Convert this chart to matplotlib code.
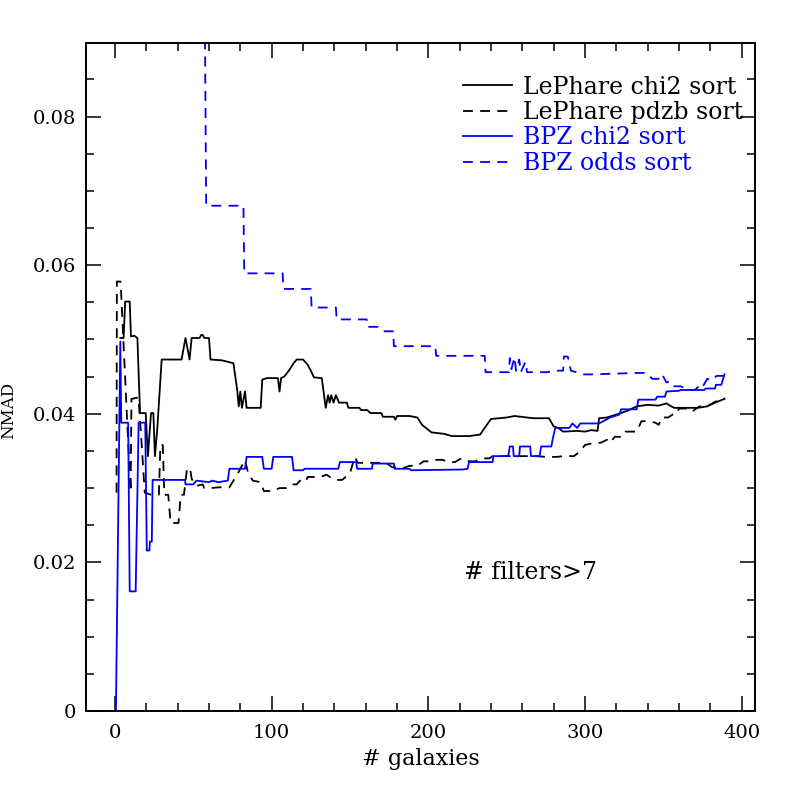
import matplotlib
matplotlib.use("Agg")
import matplotlib.pyplot as plt
from matplotlib.ticker import MultipleLocator

# ---------------- data ----------------
lp_chi2_x = [3.4, 5.5, 6.5, 9.4, 10.2, 12.3, 14.3, 16, 19.6, 21, 23, 24.5, 25.5, 27, 29.8,
             42.5, 45, 47.6, 48.9, 54, 55, 56, 57, 60, 61, 68, 72, 75.6, 78, 79, 80, 81,
             83, 84, 93, 94, 97, 104, 105, 106, 108, 111, 114, 116, 120, 123, 125, 127,
             132, 134.5, 136, 137, 138, 139.5, 141, 143, 148, 149, 156, 157, 161, 163,
             170, 171, 178, 179, 180, 188, 193, 196, 202, 210, 215, 226, 233, 236, 240,
             250, 255, 259, 267, 277, 280, 283, 286, 295, 300, 304, 308, 309, 314, 320,
             327, 333, 340, 347, 352, 355, 357, 368, 372, 378, 383, 389]
lp_chi2_y = [0.0502, 0.0502, 0.0551, 0.0551, 0.0504, 0.0505, 0.0502, 0.0401, 0.0401, 0.0343,
             0.0401, 0.0401, 0.0343, 0.0380, 0.0473, 0.0473, 0.0502, 0.0473, 0.0502, 0.0502,
             0.0506, 0.0506, 0.0502, 0.0502, 0.0473, 0.0472, 0.0470, 0.0468, 0.0432, 0.0410,
             0.0430, 0.0408, 0.0430, 0.0408, 0.0408, 0.0446, 0.0448, 0.0448, 0.0430, 0.0448,
             0.0450, 0.0458, 0.0468, 0.0473, 0.0473, 0.0466, 0.0458, 0.0449, 0.0448, 0.0408,
             0.0425, 0.0415, 0.0425, 0.0415, 0.0425, 0.0415, 0.0415, 0.0408, 0.0408, 0.0405,
             0.0405, 0.0401, 0.0401, 0.0396, 0.0396, 0.0392, 0.0397, 0.0397, 0.0395, 0.0385,
             0.0375, 0.0373, 0.0370, 0.0370, 0.0372, 0.0381, 0.0393, 0.0395, 0.0397, 0.0396,
             0.0394, 0.0394, 0.0383, 0.0381, 0.0376, 0.0377, 0.0376, 0.0378, 0.0377, 0.0394,
             0.0395, 0.0399, 0.0404, 0.0410, 0.0412, 0.0411, 0.0414, 0.0410, 0.0408, 0.0408,
             0.0408, 0.0410, 0.0415, 0.0420]

lp_pdzb_x = [1, 1.2, 3.5, 4, 6, 8, 10, 10.5, 15, 17, 19, 23, 28, 29, 30.5, 31.5, 34, 35.5,
             40.5, 42, 44, 46, 48, 49, 52, 56, 57, 61, 66, 73, 78, 83, 85, 88, 93, 95, 101,
             105, 110, 113, 116, 119, 122, 123, 131, 135, 140, 145, 150, 153, 155, 173, 177,
             184, 188, 193, 197, 201, 205, 209, 213, 217, 221, 226, 230, 234, 239, 241, 269,
             275, 282, 286, 293, 297, 300, 306, 310, 314, 316, 319, 324, 326, 333, 336, 340,
             345, 347, 349, 353, 356, 358, 360, 365, 366, 369, 373, 378, 382, 386, 389]
lp_pdzb_y = [0.0294, 0.0578, 0.0578, 0.0560, 0.0470, 0.0380, 0.0295, 0.0420, 0.0422, 0.0360,
             0.0294, 0.0291, 0.0291, 0.0358, 0.0358, 0.0291, 0.0291, 0.0253, 0.0253, 0.0291,
             0.0291, 0.0327, 0.0325, 0.0312, 0.0303, 0.0305, 0.0300, 0.0300, 0.0301, 0.0301,
             0.0318, 0.0338, 0.0320, 0.0310, 0.0308, 0.0296, 0.0296, 0.0300, 0.0300, 0.0305,
             0.0305, 0.0312, 0.0310, 0.0315, 0.0315, 0.0318, 0.0311, 0.0311, 0.0320, 0.0342,
             0.0334, 0.0334, 0.0328, 0.0327, 0.0330, 0.0330, 0.0336, 0.0336, 0.0338, 0.0338,
             0.0335, 0.0335, 0.0340, 0.0336, 0.0336, 0.0340, 0.0340, 0.0343, 0.0343, 0.0342,
             0.0342, 0.0343, 0.0343, 0.0350, 0.0358, 0.0361, 0.0361, 0.0365, 0.0361, 0.0369,
             0.0369, 0.0376, 0.0376, 0.0390, 0.0390, 0.0388, 0.0385, 0.0395, 0.0395, 0.0399,
             0.0399, 0.0407, 0.0407, 0.0404, 0.0404, 0.0410, 0.0410, 0.0415, 0.0419, 0.0421]

bpz_chi2_x = [0.6, 3.4, 4.0, 8.4, 9.4, 13.2, 15.1, 19.3, 20.3, 22.0, 22.3, 23.5, 24.0, 44.7,
              45, 50, 52, 60, 62, 66, 72, 73, 83, 84, 94, 95, 100, 101, 113, 114, 120, 121,
              142.5, 143.6, 154, 154.5, 164, 164.5, 178, 178.5, 188, 189, 222, 225, 226, 241,
              241.5, 251, 252, 254, 254.5, 258, 258.5, 265, 265.5, 271, 272, 278.5, 279.5,
              281, 290, 292, 295, 297, 309, 316, 322, 323, 333, 334, 345, 346, 351, 352, 360,
              361, 376, 377, 383, 383.5, 387, 389]
bpz_chi2_y = [0.0, 0.0497, 0.0388, 0.0388, 0.0161, 0.0161, 0.0388, 0.0388, 0.0216, 0.0216,
              0.0228, 0.0228, 0.0311, 0.0311, 0.0305, 0.0305, 0.0310, 0.0308, 0.0310, 0.0308,
              0.0310, 0.0326, 0.0326, 0.0342, 0.0342, 0.0326, 0.0326, 0.0342, 0.0342, 0.0324,
              0.0324, 0.0326, 0.0326, 0.0335, 0.0335, 0.0326, 0.0326, 0.0333, 0.0333, 0.0326,
              0.0326, 0.0324, 0.0325, 0.0326, 0.0335, 0.0335, 0.0343, 0.0343, 0.0356, 0.0356,
              0.0343, 0.0343, 0.0356, 0.0356, 0.0343, 0.0343, 0.0356, 0.0356, 0.0367, 0.0381,
              0.0381, 0.0387, 0.0381, 0.0387, 0.0387, 0.0395, 0.0399, 0.0406, 0.0406, 0.0419,
              0.0419, 0.0423, 0.0423, 0.0430, 0.0431, 0.0432, 0.0432, 0.0434, 0.0434, 0.0439,
              0.0439, 0.0453]

bpz_odds_x = [57.3, 58.2, 82, 82.5, 107, 107.5, 125, 125.5, 141, 141.5, 160.6, 161, 168, 171,
              177.6, 178, 204.5, 205, 236, 236.5, 251.5, 252, 253, 255, 256, 258, 259, 262,
              263, 276, 280, 284, 286, 286.5, 289, 291, 296, 298, 304, 333, 339, 343, 347,
              349, 350, 352, 354, 357, 361, 366, 370, 372, 373, 375, 378, 381, 384, 389]
bpz_odds_y = [0.0950, 0.0680, 0.0680, 0.0589, 0.0589, 0.0568, 0.0568, 0.0543, 0.0543, 0.0527,
              0.0527, 0.0517, 0.0517, 0.0511, 0.0511, 0.0491, 0.0491, 0.0478, 0.0478, 0.0456,
              0.0456, 0.0475, 0.0460, 0.0476, 0.0458, 0.0473, 0.0456, 0.0470, 0.0456, 0.0456,
              0.0458, 0.0458, 0.0458, 0.0477, 0.0477, 0.0458, 0.0455, 0.0453, 0.0453, 0.0455,
              0.0455, 0.0447, 0.0447, 0.0444, 0.0450, 0.0442, 0.0444, 0.0437, 0.0437, 0.0432,
              0.0432, 0.0436, 0.0433, 0.0436, 0.0447, 0.0445, 0.0451, 0.0451]

labels = ["LePhare chi2 sort", "LePhare pdzb sort", "BPZ chi2 sort", "BPZ odds sort"]
colors = ["black", "black", "blue", "blue"]
x_ticks = [0, 100, 200, 300, 400]
y_ticks = [0, 0.02, 0.04, 0.06, 0.08]
y_tick_labels = ["0", "0.02", "0.04", "0.06", "0.08"]
annotation = "# filters>7"

# ---------------- plot ----------------
plt.rcParams['font.family'] = ['DejaVu Serif']
fig = plt.figure(figsize=(7.97, 7.97), dpi=100)
ax = fig.add_axes([86/797, 1-711/797, (755-86)/797, (711-43)/797])

lw = 1.3
dash = (0, (5.5, 4))
ax.plot(lp_chi2_x, lp_chi2_y, color=colors[0], lw=lw, ls='-', label=labels[0])
ax.plot(lp_pdzb_x, lp_pdzb_y, color=colors[1], lw=lw, ls=dash, label=labels[1])
ax.plot(bpz_chi2_x, bpz_chi2_y, color=colors[2], lw=lw, ls='-', label=labels[2])
ax.plot(bpz_odds_x, bpz_odds_y, color=colors[3], lw=lw, ls=dash, label=labels[3])

ax.set_xlim(-18.5, 408.5)
ax.set_ylim(0, 0.0899)
ax.set_xticks(x_ticks)
ax.set_yticks(y_ticks)
ax.set_yticklabels(y_tick_labels)
ax.xaxis.set_minor_locator(MultipleLocator(20))
ax.yaxis.set_minor_locator(MultipleLocator(0.005))
ax.tick_params(which='both', direction='in', top=True, right=True, width=1.1,
               labelsize=14, colors='black')
ax.tick_params(which='major', length=11)
ax.tick_params(which='minor', length=5.5)
ax.tick_params(axis='x', pad=9)
ax.tick_params(axis='y', pad=7)
for s in ax.spines.values():
    s.set_linewidth(1.4)

ax.set_xlabel("# galaxies", fontsize=16, labelpad=5)
ax.set_ylabel("NMAD", fontsize=12)
ax.yaxis.set_label_coords(-0.103, 0.45)

leg = ax.legend(loc='upper left', bbox_to_anchor=(0.5635, 0.951), frameon=False,
                fontsize=17, handlelength=2.08, handletextpad=0.45, labelspacing=0.1,
                borderpad=0, borderaxespad=0)
for t, c in zip(leg.get_texts(), colors):
    t.set_color(c)

ax.text(223, 0.0186, annotation, fontsize=17, va='center', ha='left')

fig.savefig("out.png", dpi=100)
